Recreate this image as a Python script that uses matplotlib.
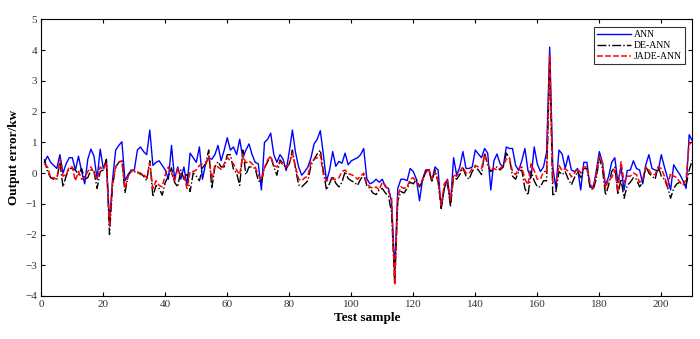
import matplotlib
matplotlib.use("Agg")
import matplotlib.pyplot as plt
import numpy as np

# sample index 1..210
samples = np.arange(1, 211)

ann = [.35, .55, .35, .25, .15, .6, .0, .3, .5, .5,
       .1, .55, .05, -.35, .45, .78, .55, -.2, .78, .15,
       .4, -1.6, -.2, .75, .9, 1.02, -.25, -.05, .1, .1,
       .75, .85, .7, .6, 1.4, .25, .35, .4, .25, .1,
       -.2, .9, -.2, .2, -.2, .2, -.4, .65, .5, .35,
       .85, -.2, .3, .5, .45, .6, .9, .4, .75, 1.15,
       .75, .85, .6, 1.1, .5, .75, .95, .6, .35, .3,
       -.55, 1.0, 1.1, 1.3, .6, .35, .6, .45, .08, .7,
       1.4, .68, .2, -.07, .05, .2, .5, .95, 1.1, 1.38,
       .6, -.27, .1, .7, .22, .38, .32, .65, .27, .4,
       .45, .5, .6, .8, -.18, -.35, -.3, -.2, -.3, -.2,
       -.45, -.5, -.95, -3.2, -.5, -.2, -.2, -.25, .15, .05,
       -.2, -.9, -.2, .1, .1, -.25, .2, .1, -1.15, -.5,
       -.2, -1.0, .5, -.07, .2, .7, .15, .15, .2, .75,
       .62, .5, .8, .65, -.55, .4, .62, .3, .2, .85,
       .8, .8, .25, .08, .4, .8, .08, -.15, .85, .3,
       .05, .2, .68, 4.1, .2, -.5, .75, .62, .15, .57,
       .1, .05, .15, -.55, .35, .35, -.45, -.5, .05, .7,
       .35, -.4, -.12, .35, .5, -.3, .2, -.55, .08, .1,
       .4, .15, .1, -.35, .27, .6, .15, .1, .08, .6,
       .2, -.15, -.55, .27, .1, -.05, -.25, -.5, 1.25, 1.05]

de_ann = [.45, .05, -.15, -.2, -.2, .35, -.45, -.1, .15, .15,
          .1, -.05, .15, -.2, -.15, .1, .05, -.5, .05, .1,
          .45, -2.0, -.4, .2, .35, .43, -.65, -.07, .05, .05,
          .0, .0, -.1, -.25, .4, -.77, -.4, -.5, -.72, -.3,
          -.1, .17, -.3, -.45, .1, -.2, .0, -.6, .0, -.1,
          -.25, .17, .3, .75, -.5, .2, .37, .2, .2, .6,
          .6, .12, .0, -.4, .75, -.05, .2, .2, .15, -.25,
          -.3, .17, .37, .55, .2, -.07, .43, .3, .15, .3,
          .75, .15, -.38, -.45, -.35, -.25, .25, .45, .62, .75,
          .05, -.55, -.33, -.1, -.33, -.45, -.3, .05, -.18, -.25,
          -.3, -.4, -.2, -.05, -.4, -.5, -.65, -.7, -.55, -.5,
          -.65, -.75, -1.3, -3.6, -.9, -.6, -.65, -.5, -.3, -.35,
          -.2, -.45, -.25, .05, .15, -.3, .1, -.3, -1.15, -.45,
          -.3, -1.1, -.1, -.2, -.05, .17, -.1, -.2, .05, .2,
          .1, -.05, .65, .25, .05, .15, .2, .1, .2, .65,
          .5, -.1, -.2, .05, .1, -.5, -.72, .05, -.25, -.45,
          -.45, -.25, -.25, 3.6, -.75, -.6, .05, -.05, .05, -.2,
          -.38, -.15, .05, -.15, .15, .15, -.45, -.55, -.2, .5,
          .15, -.72, -.4, .05, .2, -.7, -.2, -.82, -.4, -.3,
          -.15, -.2, -.45, -.3, .22, .0, -.1, -.2, .22, -.1,
          -.2, -.45, -.82, -.5, -.35, -.3, -.3, -.4, .1, .42]

jade_ann = [.3, .2, -.15, -.15, -.2, .45, -.1, -.05, .2, .2,
            -.25, .05, -.2, -.15, .05, .2, .0, -.2, .2, .1,
            .35, -1.75, -.3, .2, .35, .4, -.5, -.1, .05, .1,
            .05, -.05, -.05, -.15, .33, -.5, -.25, -.4, -.45, -.05,
            .2, .0, -.25, .15, -.1, -.1, -.5, .05, .05, .1,
            .25, .3, .3, .55, -.2, .25, .2, .12, .3, .5,
            .4, .3, .1, -.05, .6, .33, .4, .3, .2, -.07,
            -.2, .17, .43, .55, .25, .2, .37, .27, .2, .3,
            .65, .2, -.2, -.25, -.15, -.1, .38, .45, .5, .6,
            -.05, -.25, -.2, -.2, -.2, -.15, .05, .1, -.02, -.05,
            -.1, -.2, -.1, .0, -.35, -.45, -.5, -.45, -.55, -.3,
            -.4, -.6, -.8, -3.65, -.75, -.45, -.5, -.45, -.2, -.15,
            -.3, -.4, -.2, .0, .15, -.2, .05, -.25, -1.05, -.35,
            -.2, -.9, -.05, -.1, .05, .2, .0, -.02, .15, .25,
            .2, .15, .6, .3, .1, .15, .1, .15, .25, .45,
            .5, .05, -.05, .15, .2, -.2, -.38, .3, .08, -.2,
            -.2, .05, .05, 3.85, -.3, -.3, .25, .08, .15, .05,
            -.12, .0, .15, .0, .2, .2, -.3, -.5, -.05, .55,
            .35, -.5, -.2, -.15, .1, -.6, .37, -.3, -.1, -.1,
            .0, -.05, -.3, -.2, .2, .1, -.05, -.05, .2, .15,
            -.1, -.45, .0, -.1, -.15, -.3, -.4, -.2, 1.0, .9]

plt.rcParams['font.family'] = ['Liberation Serif', 'DejaVu Serif']

fig = plt.figure(figsize=(7, 3.39), dpi=100)
ax = fig.add_axes([0.059, 0.127, 0.93, 0.8155])

ax.plot(samples, ann, color='#0000ff', lw=1.0, label='ANN')
ax.plot(samples, de_ann, color='black', lw=1.0, ls='-.', label='DE-ANN')
ax.plot(samples, jade_ann, color='#ff0000', lw=1.1, ls='--', label='JADE-ANN')

ax.set_xlim(0, 210)
ax.set_ylim(-4, 5)
ax.set_xticks(np.arange(0, 201, 20))
ax.set_yticks(np.arange(-4, 6, 1))
ax.tick_params(direction='in', top=True, right=True, length=3, width=0.8,
               labelsize=8, labelcolor='#333333', pad=3)
for s in ax.spines.values():
    s.set_linewidth(0.8)

ax.set_xlabel('Test sample', fontsize=9.5, fontweight='bold', labelpad=2)
ax.set_ylabel('Output error/kw', fontsize=9.5, fontweight='bold', labelpad=4)

leg = ax.legend(loc='upper right', fontsize=7, frameon=True, fancybox=False,
                edgecolor='black', borderaxespad=0.8, handlelength=3.5,
                labelspacing=0.2, borderpad=0.3, handletextpad=0.3)
leg.get_frame().set_linewidth(0.8)

fig.savefig('out.png', dpi=100)
